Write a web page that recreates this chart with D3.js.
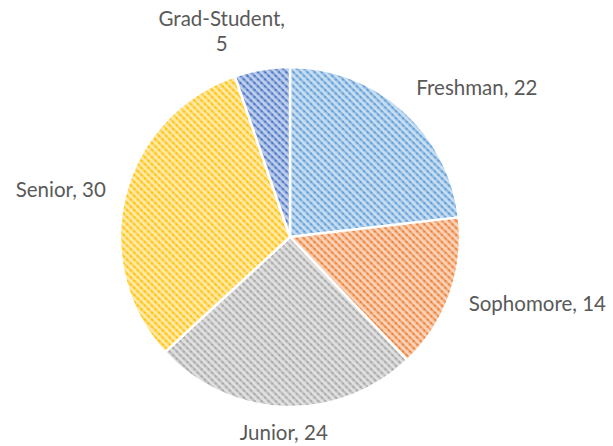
<!DOCTYPE html>
<html>
<head>
<meta charset="utf-8">
<script src="https://cdn.jsdelivr.net/npm/d3@7"></script>
<style>
  html, body { margin: 0; padding: 0; background: #fff; }
  .label { font-family: Lato, "Open Sans", sans-serif; font-size: 20.5px; fill: #595959; }
</style>
</head>
<body>
<div class="main"></div>
<script>
const svgWidth = 613,
    svgHeight = 446,
    cx = 290,
    cy = 237,
    radius = 170;

// data
const categories = ["Freshman", "Sophomore", "Junior", "Senior", "Grad-Student"];
const values = [22, 14, 24, 30, 5];
const colors = ["#5b9bd5", "#ed7d31", "#a5a5a5", "#ffc000", "#4472c4"];

let data = categories.map((c, i) => ({name: c, value: values[i], color: colors[i]}));

let svg = d3.select("body>.main").append("svg")
    .attr("width", svgWidth)
    .attr("height", svgHeight);

// hatched fills, like the excel "downward diagonal" pattern
let defs = svg.append("defs");
data.forEach(function(d, i) {
  let p = defs.append("pattern")
      .attr("id", "pat" + i)
      .attr("patternUnits", "userSpaceOnUse")
      .attr("width", 5)
      .attr("height", 5)
      .attr("patternTransform", "rotate(45)");
  p.append("rect")
      .attr("width", 5)
      .attr("height", 5)
      .attr("fill", d3.interpolateRgb("#fff", d.color)(0.33));
  p.append("rect")
      .attr("width", 5)
      .attr("height", 2.2)
      .attr("fill", d3.interpolateRgb("#fff", d.color)(0.7));
  // little darker dots along the stripe
  p.append("rect")
      .attr("x", 0)
      .attr("width", 2)
      .attr("height", 2.2)
      .attr("fill", d3.interpolateRgb("#fff", d.color)(0.95));
});

let pie = d3.pie().sort(null).value(d => d.value);
let arc = d3.arc().innerRadius(0).outerRadius(radius);
let labelArc = d3.arc().innerRadius(radius + 20).outerRadius(radius + 20);

let g = svg.append("g")
    .attr("transform", "translate(" + cx + "," + cy + ")");

let arcs = pie(data);

g.selectAll(".slice")
    .data(arcs)
  .enter().append("path")
    .attr("class", "slice")
    .attr("d", arc)
    .attr("fill", (d, i) => "url(#pat" + i + ")")
    .attr("stroke", "#fff")
    .attr("stroke-width", 2.5)
    .attr("stroke-linejoin", "round");

// labels
g.selectAll(".label")
    .data(arcs)
  .enter().append("text")
    .attr("class", "label")
    .each(function(d) {
      let [x, y] = labelArc.centroid(d);
      let mid = (d.startAngle + d.endAngle) / 2;
      let t = d3.select(this);
      let txt = d.data.name + ", " + d.data.value;
      if (d.data.name === "Grad-Student") {
        // wrapped over two lines, above the slice
        t.attr("text-anchor", "middle");
        t.append("tspan").attr("x", x - 37).attr("y", y - 24).text(d.data.name + ",");
        t.append("tspan").attr("x", x - 37).attr("y", y + 1).text(d.data.value);
        return;
      }
      let anchor = Math.abs(Math.sin(mid)) < 0.2 ? "middle" : (Math.sin(mid) > 0 ? "start" : "end");
      let dy = Math.cos(mid) > 0.5 ? "0em" : (Math.cos(mid) < -0.9 ? "0.63em" : (Math.cos(mid) < 0 ? "0.45em" : "0.33em"));
      t.attr("x", x).attr("y", y)
        .attr("dy", dy)
        .attr("text-anchor", anchor)
        .text(txt);
    });
</script>
</body>
</html>
